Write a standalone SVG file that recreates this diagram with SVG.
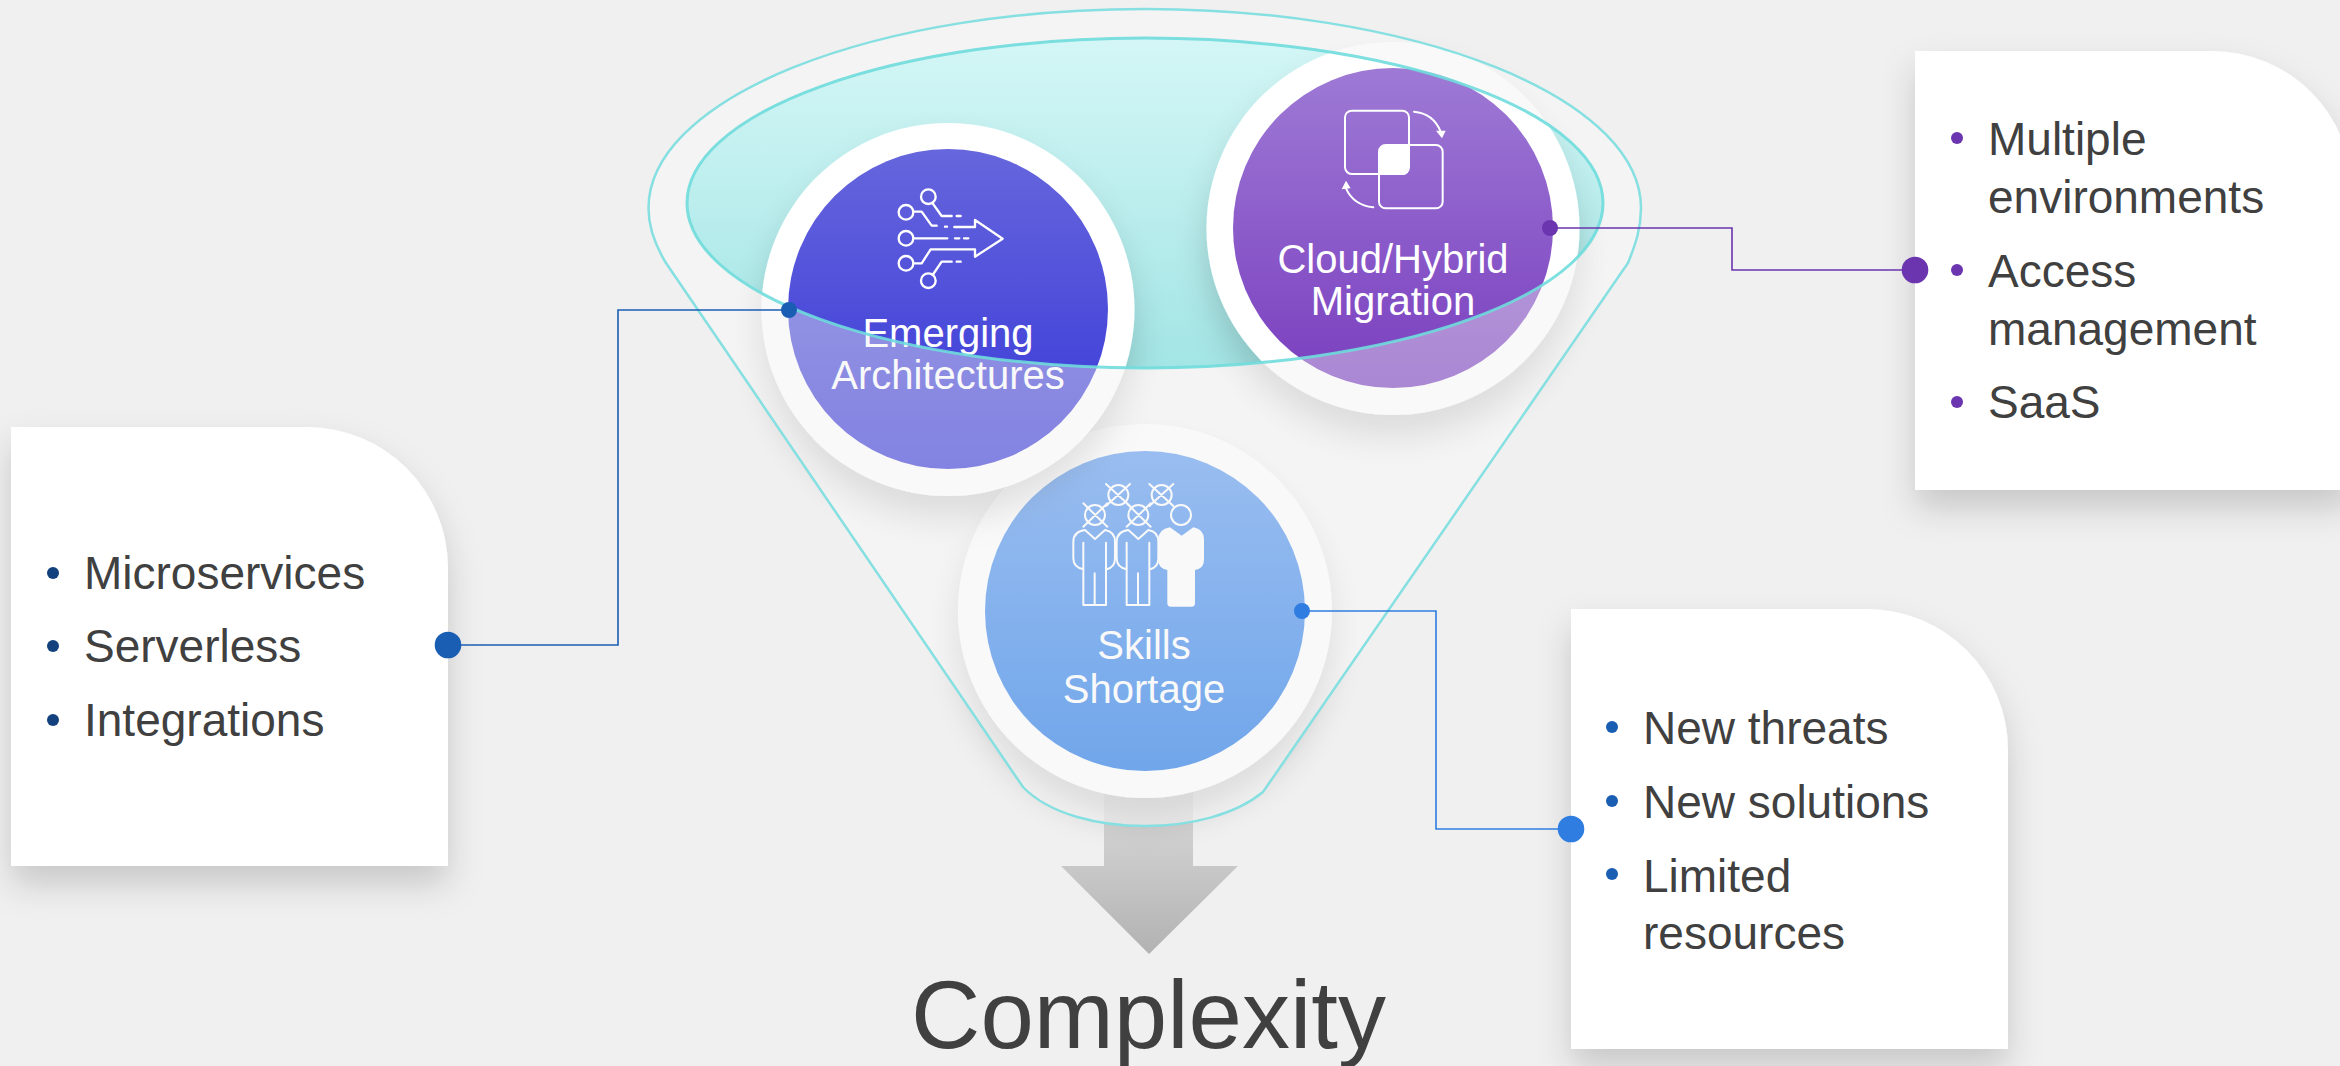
<svg xmlns="http://www.w3.org/2000/svg" width="2340" height="1066" viewBox="0 0 2340 1066">
<style>
.t{font-family:"Liberation Sans",Arial,sans-serif;font-size:46px;fill:#404040}
.c{font-family:"Liberation Sans",Arial,sans-serif;font-size:40px;fill:#fff;text-anchor:middle}
.i{fill:none;stroke:#fff;stroke-linecap:round;stroke-linejoin:round}
.l{fill:none;stroke-width:1.6}
.ring{fill:#fff;filter:url(#sc)}
.card{fill:#fff;filter:url(#sk)}
</style>
<defs>
<linearGradient id="g1" x1="0" y1="0" x2="0" y2="1"><stop offset="0" stop-color="#6666dd"/><stop offset="1" stop-color="#3636d8"/></linearGradient>
<linearGradient id="g2" x1="0" y1="0" x2="0" y2="1"><stop offset="0" stop-color="#9e7ad5"/><stop offset="1" stop-color="#7a3ebf"/></linearGradient>
<linearGradient id="g3" x1="0" y1="0" x2="0" y2="1"><stop offset="0" stop-color="#5d9af0"/><stop offset="1" stop-color="#1772e6"/></linearGradient>
<linearGradient id="ge" x1="0" y1="0" x2="0" y2="1"><stop offset="0" stop-color="#d4f6f6"/><stop offset="1" stop-color="#a3e5e5"/></linearGradient>
<linearGradient id="ga" x1="0" y1="0" x2="0" y2="1"><stop offset="0" stop-color="#dedede"/><stop offset="1" stop-color="#b2b2b2"/></linearGradient>
<filter id="sc" x="-30%" y="-30%" width="160%" height="170%"><feDropShadow dx="0" dy="22" stdDeviation="16" flood-color="#000" flood-opacity=".16"/></filter>
<filter id="sk" x="-20%" y="-20%" width="140%" height="140%"><feDropShadow dx="0" dy="18" stdDeviation="17" flood-color="#000" flood-opacity=".17"/></filter>
</defs>
<rect width="2340" height="1066" fill="#f0f0f0"/>
<g id="arrow"><path d="M1104 780H1193V866H1238L1149 954L1061 866H1104Z" fill="url(#ga)"/></g>
<g id="funnel-body">
<path id="fb" d="M648.500 208A496 199 0 0 1 1641 208C1641 228 1636 243 1628 263L1263 792C1235 815 1190 826 1145 826C1100 826 1050 815 1023 787L666 263C655 245 648.500 228 648.500 208Z" fill="#fff" fill-opacity=".47"/>
<ellipse cx="1145" cy="203" rx="458" ry="165" fill="url(#ge)"/>
</g>
<g id="node-skills">
<circle class="ring" cx="1145" cy="611" r="187"/>
<circle cx="1145" cy="611" r="160" fill="url(#g3)"/>
<g transform="translate(1050 470) scale(.33333)">
<g class="i" stroke-width="6">
<circle cx="135" cy="135" r="30"/><circle cx="205" cy="75" r="30"/><circle cx="265" cy="135" r="30"/><circle cx="335" cy="75" r="30"/><circle cx="393" cy="135" r="30"/>
<path d="M100 100L172 170M172 100L100 170M168 42L240 108M240 42L168 108M230 100L302 170M302 100L230 170M298 42L370 108M370 42L298 108"/>
<path d="M105 180L135 207L165 180M105 180Q70 185 70 215V265Q70 292 100 298M100 218V405H168V218M134 310V405M165 180Q195 185 195 215V265Q195 292 170 298"/>
<path d="M235 180L265 207L295 180M235 180Q200 185 200 215V265Q200 292 230 298M230 218V405H298V218M264 310V405M295 180Q325 185 325 215V265Q325 292 300 298"/>
</g>
<path d="M360 172L395 197L430 172Q462 178 462 208V270Q462 295 435 300V400Q435 410 425 410H362Q352 410 352 400V300Q325 295 325 270V208Q325 178 360 172Z" fill="#fff"/>
</g>
<text class="c" x="1144" y="659">Skills</text>
<text class="c" x="1144" y="703">Shortage</text>
</g>
<g id="node-emerging">
<circle class="ring" cx="948" cy="309.500" r="186.500"/>
<circle cx="948" cy="309" r="160" fill="url(#g1)"/>
<g transform="translate(860 160) scale(.33333)">
<g class="i" stroke-width="7">
<circle cx="205" cy="110" r="22"/><circle cx="138" cy="157" r="22"/><circle cx="138" cy="235" r="22"/><circle cx="138" cy="310" r="22"/><circle cx="205" cy="362" r="22"/>
<path d="M218 130L245 168H275M290 168H302M163 155H185L215 197H230M255 200H261M283 201H345V180L428 236L345 290V268H212L185 310H163M163 235H262M285 235H298M312 235H325M218 345L245 305H275M290 305H302"/>
</g>
</g>
<text class="c" x="948" y="347">Emerging</text>
<text class="c" x="948" y="389">Architectures</text>
</g>
<g id="node-cloud">
<circle class="ring" cx="1393" cy="228.500" r="186.500"/>
<circle cx="1393" cy="228" r="160" fill="url(#g2)"/>
<g transform="translate(1310 90) scale(.33333)">
<g class="i" stroke-width="6">
<rect x="105" y="62" width="192" height="190" rx="20"/>
<rect x="207" y="165" width="191" height="190" rx="20"/>
<path d="M312 65Q370 70 392 125M190 352Q130 345 108 295"/>
</g>
<path d="M378 122H407L396 145ZM95 298L122 295L108 272Z" fill="#fff"/>
<path d="M227 165H297V235Q297 255 277 255H207V185Q207 165 227 165Z" fill="#fff"/>
</g>
<text class="c" x="1393" y="273">Cloud/Hybrid</text>
<text class="c" x="1393" y="315">Migration</text>
</g>
<g id="funnel-front">
<path fill-rule="evenodd" fill="#f0f0f0" fill-opacity=".41" d="M648.500 208A496 199 0 0 1 1641 208C1641 228 1636 243 1628 263L1263 792C1235 815 1190 826 1145 826C1100 826 1050 815 1023 787L666 263C655 245 648.500 228 648.500 208ZM687 203A458 165 0 0 0 1603 203A458 165 0 0 0 687 203Z"/>
<path d="M648.500 208A496 199 0 0 1 1641 208C1641 228 1636 243 1628 263L1263 792C1235 815 1190 826 1145 826C1100 826 1050 815 1023 787L666 263C655 245 648.500 228 648.500 208Z" fill="none" stroke="#86dfe0" stroke-width="2.500"/>
<ellipse cx="1145" cy="203" rx="458" ry="165" fill="none" stroke="#6fdcdc" stroke-opacity=".9" stroke-width="3"/>
</g>
<g id="node-microservices">
<path class="card" d="M11 427H307A141 141 0 0 1 448 568V866H11Z"/>
<g fill="#12417e"><circle cx="53" cy="573" r="6"/><circle cx="53" cy="646" r="6"/><circle cx="53" cy="720" r="6"/></g>
<text class="t" x="84" y="589">Microservices</text>
<text class="t" x="84" y="662">Serverless</text>
<text class="t" x="84" y="736">Integrations</text>
</g>
<g id="node-environments">
<path class="card" d="M1915 51H2212A140 140 0 0 1 2352 191V490H1915Z"/>
<g fill="#6a35ae"><circle cx="1957" cy="138" r="6"/><circle cx="1957" cy="270" r="6"/><circle cx="1957" cy="402" r="6"/></g>
<text class="t" x="1988" y="155">Multiple</text>
<text class="t" x="1988" y="213">environments</text>
<text class="t" x="1988" y="287">Access</text>
<text class="t" x="1988" y="345">management</text>
<text class="t" x="1988" y="418">SaaS</text>
</g>
<g id="node-threats">
<path class="card" d="M1571 609H1867A141 141 0 0 1 2008 750V1049H1571Z"/>
<g fill="#1a5eb4"><circle cx="1612" cy="727" r="6"/><circle cx="1612" cy="801" r="6"/><circle cx="1612" cy="874" r="6"/></g>
<text class="t" x="1643" y="744">New threats</text>
<text class="t" x="1643" y="818">New solutions</text>
<text class="t" x="1643" y="892">Limited</text>
<text class="t" x="1643" y="949">resources</text>
</g>
<g id="connectors">
<path class="l" stroke="#1a5eb4" d="M448 645H618V310H789"/>
<circle cx="448" cy="645" r="13.300" fill="#1a5eb4"/><circle cx="789" cy="310" r="8" fill="#1a5eb4"/>
<path class="l" stroke="#6a35ae" d="M1550 228H1732V270H1915"/>
<circle cx="1915" cy="270" r="13.300" fill="#6a35ae"/><circle cx="1550" cy="228" r="8" fill="#6a35ae"/>
<path class="l" stroke="#2f7de1" d="M1302 611H1436V829H1571"/>
<circle cx="1571" cy="829" r="13.300" fill="#2f7de1"/><circle cx="1302" cy="611" r="8" fill="#2f7de1"/>
</g>
<text class="t" x="1148.500" y="1048" text-anchor="middle" style="font-size:96px">Complexity</text>
</svg>
